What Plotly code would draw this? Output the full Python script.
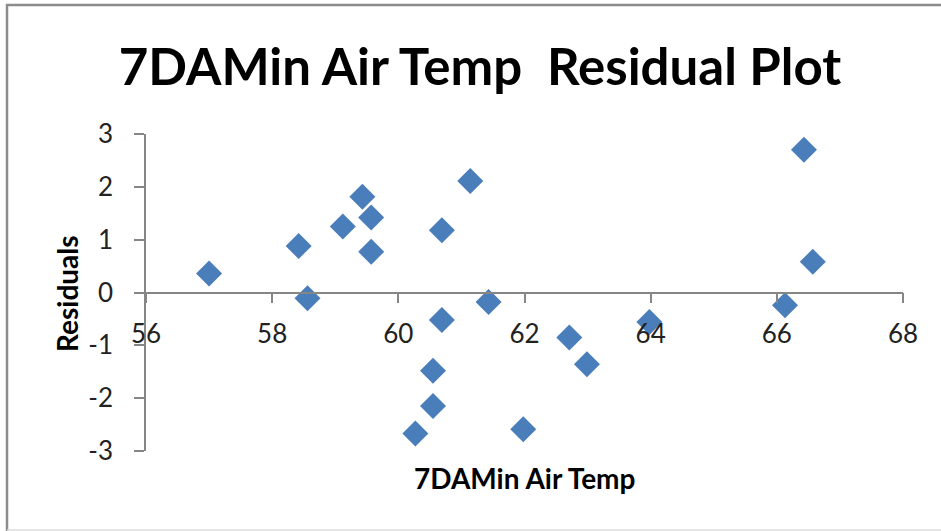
import plotly.graph_objects as go

temps = [57.0, 58.42, 58.56, 59.12, 59.43, 59.57, 59.57, 60.69, 60.69, 60.55, 60.55,
         60.27, 61.14, 61.43, 62.71, 62.99, 61.98, 63.98, 66.13, 66.43, 66.57]
residuals = [0.36, 0.88, -0.11, 1.25, 1.81, 1.42, 0.77, 1.18, -0.52, -1.48, -2.15,
             -2.67, 2.11, -0.18, -0.85, -1.36, -2.59, -0.56, -0.24, 2.70, 0.58]

x_ticks = [56, 58, 60, 62, 64, 66, 68]
y_ticks = [-3, -2, -1, 0, 1, 2, 3]
y_tick_labels = ["-3", "-2", "-1", "0", "1", "2", "3"]

title_text = "7DAMin Air Temp  Residual Plot"
x_title = "7DAMin Air Temp"
y_title = "Residuals"

W, H = 941, 531
L, R, T, B = 146, 38, 134, 80

fig = go.Figure()
fig.add_trace(go.Scatter(
    x=temps, y=residuals, mode="markers",
    marker=dict(symbol="diamond", size=20, color="#4A7EBB", line=dict(width=0)),
    showlegend=False,
))

axis_color = "#868686"
fig.update_layout(
    width=W, height=H,
    margin=dict(l=L, r=R, t=T, b=B),
    paper_bgcolor="white", plot_bgcolor="white",
    font=dict(family="Lato, 'Open Sans', sans-serif", color="#000000"),
    title=dict(text="<b>" + title_text + "</b>", x=480 / W, xanchor="center",
               y=1 - 67 / H, yanchor="middle",
               font=dict(size=51, family="Lato", color="#000000")),
    xaxis=dict(range=[56, 68], tickvals=x_ticks, ticks="outside", ticklen=10,
               tickcolor=axis_color, tickwidth=1.5, showline=True, linecolor=axis_color,
               linewidth=1.5, showgrid=False, zeroline=False,
               anchor="free", position=0.5, ticklabelstandoff=9,
               tickfont=dict(size=26, family="Lato", color="#222222")),
    yaxis=dict(range=[-3, 3], tickvals=y_ticks, ticktext=y_tick_labels, ticks="outside",
               ticklen=10, tickcolor=axis_color, tickwidth=1.5, showline=True,
               linecolor=axis_color, linewidth=1.5, showgrid=False, zeroline=False,
               ticklabelstandoff=16,
               tickfont=dict(size=26, family="Lato", color="#222222")),
    annotations=[
        dict(text="<b>" + x_title + "</b>", xref="paper", yref="paper",
             x=(524 - L) / (W - L - R), y=-(478 - (H - B)) / (H - T - B),
             xanchor="center", yanchor="middle", showarrow=False,
             font=dict(size=28, family="Lato", color="#000000")),
        dict(text="<b>" + y_title + "</b>", xref="paper", yref="paper",
             x=-(L - 67) / (W - L - R), y=((H - B) - 294) / (H - T - B),
             xanchor="center", yanchor="middle", textangle=-90, showarrow=False,
             font=dict(size=28, family="Lato", color="#000000")),
    ],
)

pw = W - L - R
ph = H - T - B
def px(x):
    return (x - L) / pw
def py(y):
    return (H - B - y) / ph

fig.add_shape(type="line", xref="paper", yref="paper",
              x0=px(6), x1=px(W + 2), y0=py(5), y1=py(5),
              line=dict(color="#8C8C8C", width=2.5))
fig.add_shape(type="line", xref="paper", yref="paper",
              x0=px(7), x1=px(7), y0=py(4), y1=py(H + 2),
              line=dict(color="#8C8C8C", width=2.5))
fig.add_shape(type="line", xref="paper", yref="paper",
              x0=px(7), x1=px(W + 2), y0=py(530), y1=py(530),
              line=dict(color="#DDDDDD", width=1.5))

fig.write_html("out.html", config={"displayModeBar": False},
               post_script="document.body.style.margin='0';document.body.style.overflow='hidden';")
